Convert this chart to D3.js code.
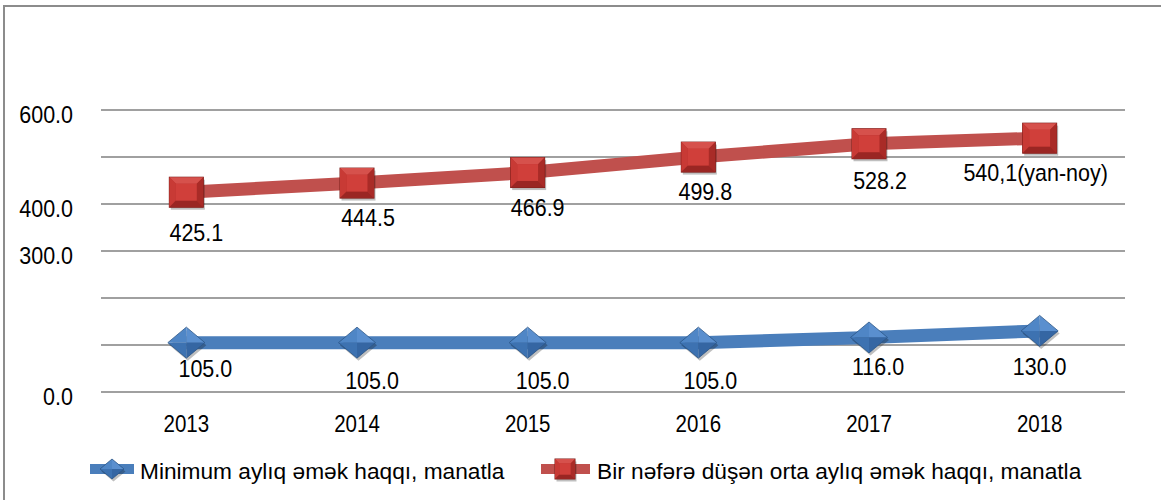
<!DOCTYPE html>
<html><head><meta charset="utf-8">
<script src="https://cdn.jsdelivr.net/npm/d3@7"></script>
<style>
html,body{margin:0;padding:0;background:#fff;}
svg{display:block;font-family:"Liberation Sans",Arial,sans-serif;}
</style></head>
<body>
<svg id="chart" width="1161" height="500"></svg>
<script>
const years = ["2013","2014","2015","2016","2017","2018"];
const minWage = [105.0,105.0,105.0,105.0,116.0,130.0];
const avgWage = [425.1,444.5,466.9,499.8,528.2,540.1];
const minLabels = ["105.0","105.0","105.0","105.0","116.0","130.0"];
const avgLabels = ["425.1","444.5","466.9","499.8","528.2","540,1(yan-noy)"];
const yTickLabels = [0,300,400,600];
const gridValues = [0,100,200,300,400,500,600];
const seriesNames = ["Minimum aylıq əmək haqqı, manatla","Bir nəfərə düşən orta aylıq əmək haqqı, manatla"];

// label placement styles (baseline offsets relative to marker)
const minLabelDx = [19,15,15,12,9,0];
const minLabelDy = [34,46,46,46,38,44];
const avgLabelDx = [10,11,10,7,11,-4];
const avgLabelDy = [49,43,43,43,45,43];

(function(){
const svg = d3.select("#chart");
const W=1161,H=500;
const pL=101,pR=1125,pT=110,pB=392;
const FS=21.5, SY=1.08;

const x = d3.scaleBand().domain(years).range([pL,pR]);
const y = d3.scaleLinear().domain([0,600]).range([pB,pT]);
const cx = d => x(d)+x.bandwidth()/2;

svg.append("path").attr("d",`M4,${H} L4,6 L${W},6`).attr("fill","none").attr("stroke","#8c8c8c").attr("stroke-width",2);

svg.append("g").selectAll("line").data(gridValues).join("line")
  .attr("x1",pL).attr("x2",pR)
  .attr("y1",d=>y(d)).attr("y2",d=>y(d))
  .attr("stroke","#a0a0a0").attr("stroke-width",2);

const yAxis = d3.axisLeft(y).tickValues(yTickLabels).tickFormat(d3.format(".1f")).tickSize(0).tickPadding(0);
const gy = svg.append("g").attr("transform","translate(73,0)").call(yAxis);
gy.select(".domain").remove();
gy.selectAll("text").attr("font-size",FS).attr("fill","#000").attr("font-family","Liberation Sans, Arial, sans-serif")
  .attr("dy",null).attr("y",12.7/SY).attr("transform",`scale(1,${SY})`);

const xAxis = d3.axisBottom(x).tickSize(0).tickPadding(0);
const gx = svg.append("g").attr("transform",`translate(0,${pB})`).call(xAxis);
gx.select(".domain").remove();
gx.selectAll("text").attr("font-size",20.5).attr("fill","#000").attr("font-family","Liberation Sans, Arial, sans-serif")
  .attr("dy",null).attr("y",40/1.14).attr("transform","scale(1,1.14)");

const line = d3.line().x(d=>cx(d.year)).y(d=>y(d.v));
const minData = years.map((yr,i)=>({year:yr,v:minWage[i]}));
const avgData = years.map((yr,i)=>({year:yr,v:avgWage[i]}));

const BLUE="#4a7ebb", RED="#c0504d";

svg.append("path").datum(avgData).attr("d",line).attr("fill","none").attr("stroke",RED).attr("stroke-width",13);
svg.append("path").datum(minData).attr("d",line).attr("fill","none").attr("stroke",BLUE).attr("stroke-width",13);

function square(g,w,h){
  g.append("rect").attr("x",-w/2+1.5).attr("y",-h/2+2.5).attr("width",w).attr("height",h).attr("fill","rgba(0,0,0,0.25)");
  g.append("rect").attr("x",-w/2).attr("y",-h/2).attr("width",w).attr("height",h).attr("fill","#b8302c").attr("stroke","#7a1c19").attr("stroke-width",1);
  const b=Math.min(w,h)*0.22;
  g.append("polygon").attr("points",`${-w/2},${-h/2} ${w/2},${-h/2} ${w/2-b},${-h/2+b} ${-w/2+b},${-h/2+b}`).attr("fill","#d6514c");
  g.append("polygon").attr("points",`${-w/2},${-h/2} ${-w/2+b},${-h/2+b} ${-w/2+b},${h/2-b} ${-w/2},${h/2}`).attr("fill","#c83a35");
  g.append("polygon").attr("points",`${-w/2},${h/2} ${-w/2+b},${h/2-b} ${w/2-b},${h/2-b} ${w/2},${h/2}`).attr("fill","#9a2623");
  g.append("polygon").attr("points",`${w/2},${-h/2} ${w/2},${h/2} ${w/2-b},${h/2-b} ${w/2-b},${-h/2+b}`).attr("fill","#a92b27");
  g.append("rect").attr("x",-w/2+b).attr("y",-h/2+b).attr("width",w-2*b).attr("height",h-2*b).attr("fill","#d03f3a");
}
function diamond(g,w,h){
  g.append("polygon").attr("points",`1.5,${-h/2+2.5} ${w/2+1.5},2.5 1.5,${h/2+2.5} ${-w/2+1.5},2.5`).attr("fill","rgba(0,0,0,0.25)");
  g.append("polygon").attr("points",`0,${-h/2} ${w/2},0 0,0`).attr("fill","#5a8fcf");
  g.append("polygon").attr("points",`0,${-h/2} ${-w/2},0 0,0`).attr("fill","#4f86c6");
  g.append("polygon").attr("points",`0,${h/2} ${w/2},0 0,0`).attr("fill","#3566a3");
  g.append("polygon").attr("points",`0,${h/2} ${-w/2},0 0,0`).attr("fill","#3d72b1");
  g.append("polygon").attr("points",`0,${-h/2} ${w/2},0 0,${h/2} ${-w/2},0`).attr("fill","none").attr("stroke","#2b5587").attr("stroke-width",0.8);
}

avgData.forEach(d=>{
  square(svg.append("g").attr("transform",`translate(${cx(d.year)},${y(d.v)})`),34,30);
});
minData.forEach(d=>{
  diamond(svg.append("g").attr("transform",`translate(${cx(d.year)},${y(d.v)})`),37,31);
});

svg.append("g").selectAll("text").data(avgData).join("text")
  .attr("transform",(d,i)=>`translate(${cx(d.year)+avgLabelDx[i]},${y(d.v)+avgLabelDy[i]}) scale(1,${SY})`)
  .attr("text-anchor","middle")
  .attr("font-size",FS).attr("fill","#000")
  .text((d,i)=>avgLabels[i]);
svg.append("g").selectAll("text").data(minData).join("text")
  .attr("transform",(d,i)=>`translate(${cx(d.year)+minLabelDx[i]},${y(d.v)+minLabelDy[i]}) scale(1,${SY})`)
  .attr("text-anchor","middle")
  .attr("font-size",FS).attr("fill","#000")
  .text((d,i)=>minLabels[i]);

const lg = svg.append("g");
const ly = 469;
lg.append("line").attr("x1",90).attr("x2",134).attr("y1",ly).attr("y2",ly).attr("stroke",BLUE).attr("stroke-width",10);
diamond(lg.append("g").attr("transform",`translate(112,${ly})`),24,20);
lg.append("text").attr("x",140).attr("y",479).attr("font-size",22.7).attr("fill","#000").text(seriesNames[0]);
lg.append("line").attr("x1",541).attr("x2",590).attr("y1",ly).attr("y2",ly).attr("stroke",RED).attr("stroke-width",10);
square(lg.append("g").attr("transform",`translate(565,${ly})`),20,20);
lg.append("text").attr("x",597).attr("y",479).attr("font-size",22.7).attr("fill","#000").text(seriesNames[1]);
})();
</script>
</body></html>
